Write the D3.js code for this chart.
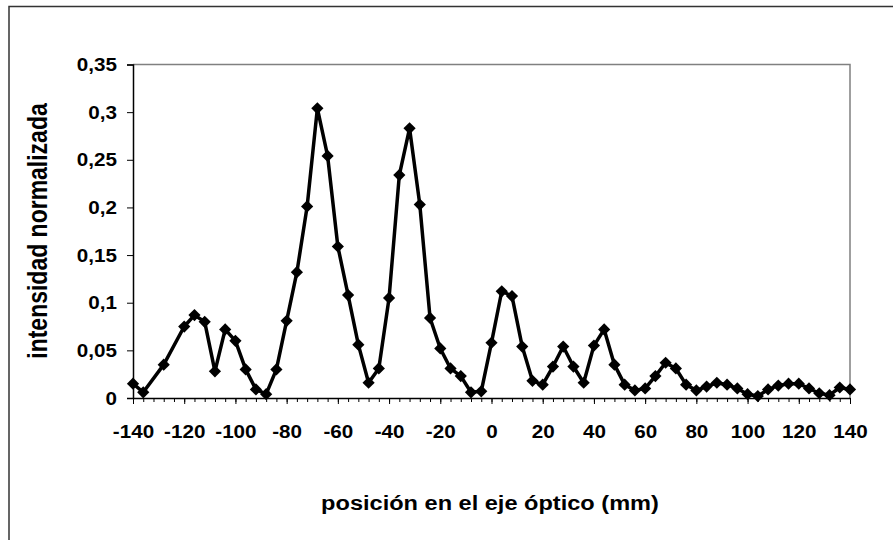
<!DOCTYPE html>
<html>
<head>
<meta charset="utf-8">
<script src="https://cdn.jsdelivr.net/npm/d3@7"></script>
<style>
  body { margin: 0; background: #fff; overflow: hidden; }
  svg { display: block; }
  text { font-family: "Liberation Sans", Arial, sans-serif; font-weight: bold; fill: #000; }
</style>
</head>
<body>
<div id="chart"></div>
<script>

// positions along the optical axis (mm)
var posicion = [-140, -136, -128, -120, -116, -112, -108, -104, -100, -96, -92, -88, -84,
  -80, -76, -72, -68, -64, -60, -56, -52, -48, -44, -40, -36, -32, -28, -24, -20, -16, -12,
  -8, -4, 0, 4, 8, 12, 16, 20, 24, 28, 32, 36, 40, 44, 48, 52, 56, 60, 64, 68, 72, 76, 80,
  84, 88, 92, 96, 100, 104, 108, 112, 116, 120, 124, 128, 132, 136, 140];

// normalized intensity
var intensidad = [0.015, 0.006, 0.035, 0.075, 0.087, 0.080, 0.028, 0.072, 0.060, 0.030, 0.009, 0.004, 0.030,
  0.081, 0.132, 0.201, 0.304, 0.254, 0.159, 0.108, 0.056, 0.016, 0.031, 0.105, 0.234, 0.283, 0.203, 0.084, 0.052, 0.031, 0.023,
  0.006, 0.007, 0.058, 0.112, 0.107, 0.054, 0.018, 0.014, 0.033, 0.054, 0.033, 0.016, 0.055, 0.072, 0.035, 0.014, 0.008, 0.010,
  0.023, 0.037, 0.031, 0.014, 0.008, 0.012, 0.016, 0.014, 0.010, 0.004, 0.002, 0.009, 0.013, 0.015, 0.015, 0.010, 0.005,
  0.003, 0.011, 0.009];

var xTicks = [-140, -120, -100, -80, -60, -40, -20, 0, 20, 40, 60, 80, 100, 120, 140];
var yTicks = [0, 0.05, 0.1, 0.15, 0.2, 0.25, 0.3, 0.35];

var data = posicion.map(function(p, i) { return {pos: p, val: intensidad[i]}; });

var W = 893, H = 540;
var plot = {left: 133, right: 850, top: 64.5, bottom: 398};

var svg = d3.select("#chart").append("svg")
    .attr("width", W)
    .attr("height", H);

// outer chart frame (runs off the right and bottom edges)
svg.append("rect")
    .attr("x", 9).attr("y", 6.5)
    .attr("width", W + 20).attr("height", H + 20)
    .attr("fill", "#fff")
    .attr("stroke", "#333")
    .attr("stroke-width", 1.5);

var x = d3.scaleLinear().domain([-140, 140]).range([plot.left, plot.right]);
var y = d3.scaleLinear().domain([0, 0.35]).range([plot.bottom, plot.top]);

// plot area border (top / right in grey)
svg.append("path")
    .attr("d", "M" + plot.left + "," + plot.top + "H" + plot.right + "V" + plot.bottom)
    .attr("fill", "none")
    .attr("stroke", "#808080")
    .attr("stroke-width", 1.5);

var fmt = function(d) { return String(d).replace(".", ","); };

// y axis
var yAxis = svg.append("g")
    .attr("transform", "translate(" + plot.left + ",0)")
    .call(d3.axisLeft(y).tickValues(yTicks).tickSize(6).tickPadding(10).tickFormat(fmt));
yAxis.select(".domain").attr("stroke", "#000").attr("stroke-width", 1.5);
yAxis.selectAll(".tick line").attr("stroke", "#000");
yAxis.selectAll(".tick text")
    .style("font-size", "17.5px")
    .attr("transform", "scale(1.18,1)")
    .attr("x", -16 / 1.18)
    .attr("dy", "0.35em");

// x axis: minor ticks every 4 mm, labels every 20 mm
var xAxisMinor = svg.append("g")
    .attr("transform", "translate(0," + plot.bottom + ")")
    .call(d3.axisBottom(x).tickValues(d3.range(-140, 141, 4)).tickSize(4).tickFormat(""));
xAxisMinor.select(".domain").remove();
xAxisMinor.selectAll(".tick line").attr("stroke", "#000");

var xAxis = svg.append("g")
    .attr("transform", "translate(0," + plot.bottom + ")")
    .call(d3.axisBottom(x).tickValues(xTicks).tickSize(6).tickSizeOuter(0).tickPadding(10)
        .tickFormat(function(d) { return String(d); }));
xAxis.select(".domain").attr("stroke", "#000").attr("stroke-width", 1.5);
xAxis.selectAll(".tick line").attr("stroke", "#000");
xAxis.selectAll(".tick text")
    .style("font-size", "17.5px")
    .attr("y", 0)
    .attr("dy", 0)
    .attr("transform", "translate(0,39.5) scale(1.18,1)");

// the line
var line = d3.line()
    .x(function(d) { return x(d.pos); })
    .y(function(d) { return y(d.val); });

svg.append("path")
    .datum(data)
    .attr("fill", "none")
    .attr("stroke", "#000")
    .attr("stroke-width", 3.5)
    .attr("stroke-linejoin", "round")
    .attr("d", line);

// diamond markers
var diamond = d3.symbol().type(d3.symbolDiamond2).size(95);
svg.selectAll(".marker")
    .data(data)
  .enter().append("path")
    .attr("class", "marker")
    .attr("transform", function(d) { return "translate(" + x(d.pos) + "," + y(d.val) + ")"; })
    .attr("d", diamond)
    .attr("fill", "#000");

// axis titles
svg.append("text")
    .attr("transform", "translate(490,510) scale(1.15,1)")
    .attr("text-anchor", "middle")
    .style("font-size", "20.5px")
    .text("posición en el eje óptico (mm)");

svg.append("text")
    .attr("transform", "translate(47,231) scale(1.2,1) rotate(-90)")
    .attr("text-anchor", "middle")
    .style("font-size", "23px")
    .text("intensidad normalizada");

</script>
</body>
</html>
